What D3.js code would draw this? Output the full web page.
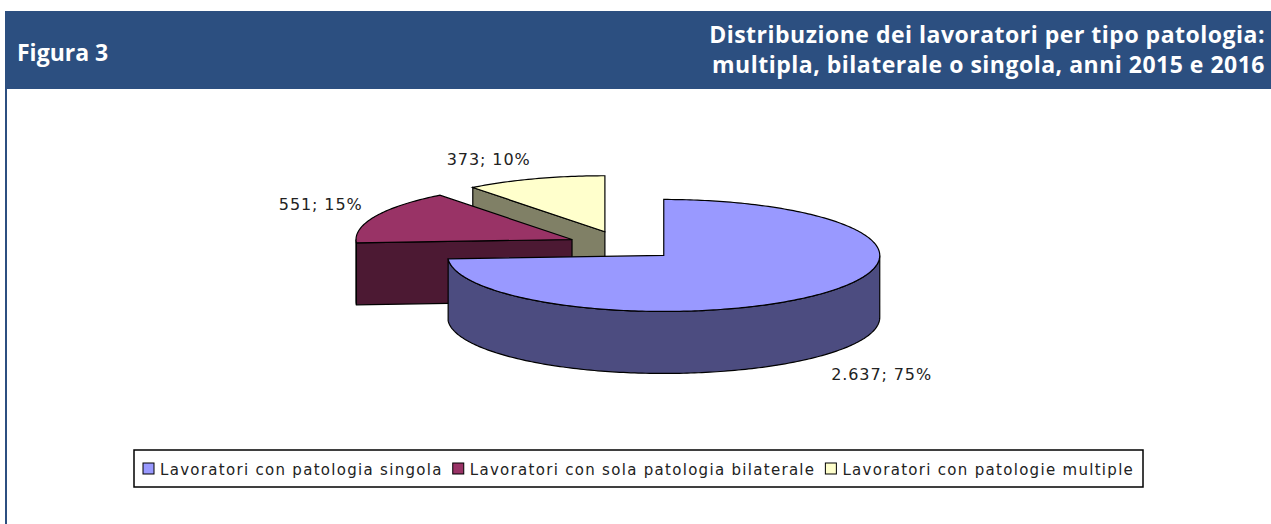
<!DOCTYPE html>
<html>
<head>
<meta charset="utf-8">
<script src="https://cdn.jsdelivr.net/npm/d3@7"></script>
<style>
  body { margin: 0; background: #fff; }
  svg { display: block; }
</style>
</head>
<body>
<svg width="1271" height="524"></svg>
<script>
// dati
var categories = ["Lavoratori con patologia singola", "Lavoratori con sola patologia bilaterale", "Lavoratori con patologie multiple"];
var values = [2637, 551, 373];
var valueLabels = ["2.637", "551", "373"];
var percentLabels = ["75%", "15%", "10%"];

var titleLeft = "Figura 3";
var titleRight = ["Distribuzione dei lavoratori per tipo patologia:", "multipla, bilaterale o singola, anni 2015 e 2016"];

var svg = d3.select("svg"),
  W = +svg.attr("width"),
  H = +svg.attr("height");

var topColor = d3.scaleOrdinal().domain(categories).range(["#9999ff", "#993366", "#ffffcc"]);
var sideColor = d3.scaleOrdinal().domain(categories).range(["#4c4c80", "#4c1933", "#808066"]);

// intestazione
svg.append("rect").attr("x", 5).attr("y", 11).attr("width", W - 5).attr("height", 78).attr("fill", "#2c4f80");
svg.append("rect").attr("x", 5).attr("y", 89).attr("width", 2).attr("height", H - 89).attr("fill", "#2c4f80");

svg.append("text")
  .attr("x", 17).attr("y", 61)
  .attr("fill", "#fff")
  .style("font", "bold 23px 'Open Sans', 'Noto Sans', sans-serif")
  .text(titleLeft);

svg.append("g").selectAll("text")
  .data(titleRight)
  .enter().append("text")
  .attr("x", 1265)
  .attr("y", function(d, i) { return 43 + i * 30; })
  .attr("text-anchor", "end")
  .attr("fill", "#fff")
  .style("font", "bold 23px 'Open Sans', 'Noto Sans', sans-serif")
  .style("letter-spacing", "0.5px")
  .text(function(d) { return d; });

// torta 3D esplosa
var cx = 623, cy = 245.5, rx = 216, ry = 56, depth = 62, explode = 56;
var k = ry / rx;

var pie = d3.pie().sort(null).value(function(d) { return d.value; });
var data = categories.map(function(c, i) {
  return {name: c, value: values[i], label: valueLabels[i] + "; " + percentLabels[i]};
});
var arcs = pie(data);

arcs.forEach(function(a) {
  var m = (a.startAngle + a.endAngle) / 2;
  a.mid = m;
  a.cx = cx + explode * Math.sin(m);
  a.cy = cy - explode * k * Math.cos(m);
});

function rim(a, ang, dy) {
  return [a.cx + rx * Math.sin(ang), a.cy - ry * Math.cos(ang) + (dy || 0)];
}
function rimPts(a, a0, a1, dy) {
  var n = Math.max(2, Math.ceil(Math.abs(a1 - a0) / (Math.PI / 180))), pts = [];
  for (var i = 0; i <= n; i++) pts.push(rim(a, a0 + (a1 - a0) * i / n, dy));
  return pts;
}

var line = d3.line();
var gPie = svg.append("g");

function drawSlice(a) {
  var g = gPie.append("g");
  var fillSide = sideColor(a.data.name), fillTop = topColor(a.data.name);
  var c = [a.cx, a.cy], cd = [a.cx, a.cy + depth];

  // facce radiali visibili
  [[a.startAngle, Math.sin(a.startAngle) < -1e-6], [a.endAngle, Math.sin(a.endAngle) > 1e-6]].forEach(function(f) {
    if (!f[1]) return;
    var p = rim(a, f[0]), pd = rim(a, f[0], depth);
    g.append("path")
      .attr("d", line([c, p, pd, cd]) + "Z")
      .attr("fill", fillSide).attr("stroke", "#000").attr("stroke-width", 1.2);
  });

  // parete esterna (metà anteriore)
  var s = Math.max(a.startAngle, Math.PI / 2), e = Math.min(a.endAngle, 3 * Math.PI / 2);
  if (e > s) {
    var pts = rimPts(a, s, e, 0).concat(rimPts(a, e, s, depth));
    g.append("path")
      .attr("d", line(pts) + "Z")
      .attr("fill", fillSide).attr("stroke", "#000").attr("stroke-width", 1.2);
  }

  // faccia superiore
  g.append("path")
    .attr("d", line([c].concat(rimPts(a, a.startAngle, a.endAngle, 0))) + "Z")
    .attr("fill", fillTop).attr("stroke", "#000").attr("stroke-width", 1.2);
}

// ordine di disegno: dal fondo al davanti
[2, 1, 0].forEach(function(i) { drawSlice(arcs[i]); });

// etichette dati
var lrx = rx + explode + 14, lry = ry + explode * k + 15;
svg.append("g").selectAll("text")
  .data(arcs)
  .enter().append("text")
  .attr("x", function(d) { return cx + lrx * Math.sin(d.mid); })
  .attr("y", function(d) {
    var y = cy - lry * Math.cos(d.mid);
    return Math.cos(d.mid) < 0 ? y + depth : y;
  })
  .attr("dy", function(d) { return Math.cos(d.mid) < 0 ? "0.85em" : 0; })
  .attr("text-anchor", function(d) { return Math.sin(d.mid) < 0 ? "end" : "start"; })
  .attr("fill", "#222")
  .style("font", "16px 'DejaVu Sans', Verdana, sans-serif")
  .style("letter-spacing", "0.9px")
  .text(function(d) { return d.data.label; });

// legenda
var leg = svg.append("g");
leg.append("rect")
  .attr("x", 134).attr("y", 450).attr("width", 1009).attr("height", 37)
  .attr("fill", "#fff").attr("stroke", "#000").attr("stroke-width", 1.5);

var xPos = 143;
categories.forEach(function(c) {
  leg.append("rect")
    .attr("x", xPos).attr("y", 463).attr("width", 11).attr("height", 11)
    .attr("fill", topColor(c)).attr("stroke", "#000").attr("stroke-width", 1);
  var t = leg.append("text")
    .attr("x", xPos + 17).attr("y", 475)
    .attr("fill", "#222")
    .style("font", "15px 'DejaVu Sans', Verdana, sans-serif")
    .style("letter-spacing", "1.3px")
    .text(c);
  xPos += 17 + t.node().getComputedTextLength() + 10;
});
</script>
</body>
</html>
